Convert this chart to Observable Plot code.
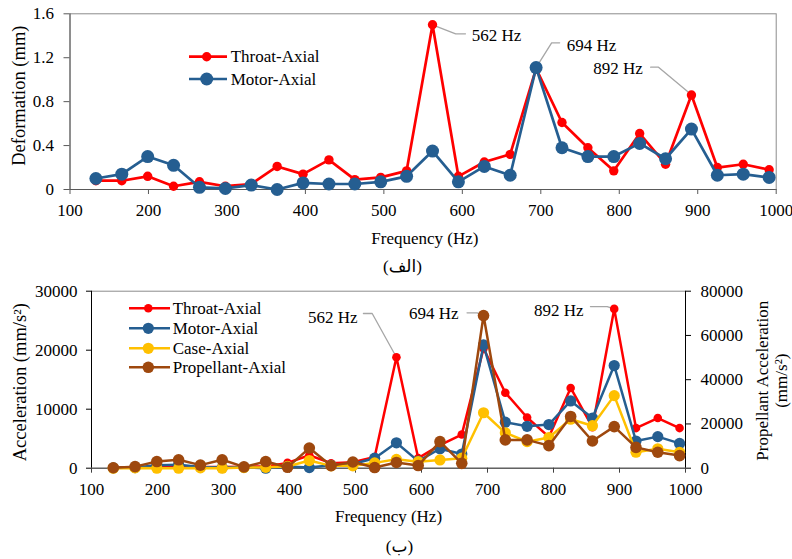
<!DOCTYPE html>
<html>
<head>
<meta charset="utf-8">
<script src="https://cdn.jsdelivr.net/npm/d3@7"></script>
<script src="https://cdn.jsdelivr.net/npm/@observablehq/plot@0.6"></script>
<style>
  body { margin: 0; background: #fff; }
  #wrap { position: relative; width: 792px; height: 559px; background: #fff; }
  #top, #bot { position: absolute; left: 0; }
  #top { top: 0; }
  #bot { top: 280px; }
</style>
</head>
<body>
<div id="wrap"><div id="top"></div><div id="bot"></div></div>
<script>
// ---- data ----
const freqs = [133,166,199,232,265,298,331,364,397,430,463,496,529,562,595,628,661,694,727,760,793,826,859,892,925,958,991];

// (a) deformation, mm
const throatDef = [0.08,0.08,0.12,0.03,0.07,0.03,0.05,0.21,0.14,0.27,0.09,0.11,0.17,1.50,0.12,0.25,0.32,1.10,0.61,0.38,0.17,0.51,0.23,0.86,0.20,0.23,0.18];
const motorDef  = [0.10,0.14,0.30,0.22,0.02,0.01,0.04,0.00,0.06,0.05,0.05,0.07,0.12,0.35,0.07,0.21,0.13,1.11,0.38,0.30,0.30,0.42,0.28,0.55,0.13,0.14,0.11];

// (b) acceleration, mm/s^2 (left axis)
const throatAcc = [100,150,200,150,200,200,250,300,900,2200,850,1000,1900,18800,1700,3900,5700,20300,12800,8600,5300,13600,6950,27000,6800,8500,6800];
const motorAcc  = [50,100,500,600,200,100,150,0,300,100,500,700,1700,4300,1200,3300,2400,20900,7800,7100,7400,11400,8500,17400,4600,5350,4200];
const caseAcc   = [0,50,0,0,50,0,100,150,300,1300,400,400,900,1500,1100,1400,1700,9400,6000,4500,5200,8300,7200,12300,2700,3300,2700];
// propellant acceleration, mm/s^2 (right axis)
const propAcc   = [200,700,3000,3800,1400,3800,600,3000,400,9100,1100,2800,300,2600,1200,12000,2200,69000,12800,12800,10200,23400,12300,18800,9400,7200,5700];

const xTicks = [100,200,300,400,500,600,700,800,900,1000];
const defTicks = [0,0.4,0.8,1.2,1.6];
const accTicks = [0,10000,20000,30000];
const propTicks = [0,20000,40000,60000,80000];

const accMax = 30000, propMax = 80000;
const toLeft = v => v * accMax / propMax;

// annotations (data units)
const topNotes = [
  {label:"562 Hz", f:562, v:1.50, ex:591.5, ey:1.418, hx:604, tx:612, ty:1.40, anchor:"start"},
  {label:"694 Hz", f:694, v:1.11, ex:713.8, ey:1.336, hx:724, tx:733, ty:1.311, anchor:"start"},
  {label:"892 Hz", f:892, v:0.862, ex:850, ey:1.114, hx:840, tx:830, ty:1.099, anchor:"end"}
];
const botNotes = [
  {label:"562 Hz", f:562, v:18800, ex:525.3, ey:26220, hx:512, tx:503, ty:25590, anchor:"end"},
  {label:"694 Hz", f:694, v:toLeft(69000), ex:684.4, ey:26340, hx:669, tx:656, ty:26170, anchor:"end"},
  {label:"892 Hz", f:892, v:27000, ex:881.4, ey:27400, hx:856, tx:845.5, ty:26730, anchor:"end"}
];

const RED = "#ff0000", BLUE = "#255e91", YEL = "#ffc000", BRN = "#9e480e";
const FONT = "'Liberation Serif', 'Times New Roman', 'DejaVu Serif', 'DejaVu Sans', serif";

const topSeries = [
  {name:"Throat-Axial", vals:throatDef, color:RED, r:4.7, w:2.7},
  {name:"Motor-Axial", vals:motorDef, color:BLUE, r:6.5, w:2.7}
];
const botSeries = [
  {name:"Throat-Axial", vals:throatAcc, color:RED, r:4.3, w:2.5},
  {name:"Motor-Axial", vals:motorAcc, color:BLUE, r:5.6, w:2.5},
  {name:"Case-Axial", vals:caseAcc, color:YEL, r:5.6, w:2.5},
  {name:"Propellant-Axial", vals:propAcc.map(toLeft), color:BRN, r:5.8, w:2.5}
];

function leaderPts(notes) {
  return notes.flatMap(n => [
    {k:n.label, x:n.f, y:n.v},
    {k:n.label, x:n.ex, y:n.ey},
    {k:n.label, x:n.hx, y:n.ey}
  ]);
}
function seriesMarks(series) {
  return series.flatMap(s => {
    const d = freqs.map((f, i) => ({f, v: s.vals[i]}));
    return [
      Plot.line(d, {x:"f", y:"v", stroke:s.color, strokeWidth:s.w}),
      Plot.dot(d, {x:"f", y:"v", r:s.r, fill:s.color})
    ];
  });
}
const noteMarks = notes => [
  Plot.line(leaderPts(notes), {x:"x", y:"y", z:"k", stroke:"#a6a6a6", strokeWidth:1.3}),
  ...notes.map(n => Plot.text([n], {x:"tx", y:"ty", text:"label", textAnchor:n.anchor, lineAnchor:"middle", fontSize:17, fill:"black"}))
];
const label = (s, o) => Plot.text([s], {text: d => d, textAnchor: "middle", lineAnchor: "middle", fill: "black", ...o});

// ---- (a) ----
const topPlot = Plot.plot({
  width: 792, height: 280,
  marginLeft: 69.5, marginRight: 16.3, marginTop: 13.3, marginBottom: 91,
  x: {domain: [100, 1000]},
  y: {domain: [0, 1.6]},
  style: {fontFamily: FONT, fontSize: "17px", color: "black", background: "white", overflow: "visible"},
  marks: [
    Plot.frame({stroke: "#8c8c8c"}),
    Plot.ruleX([100], {stroke: "#595959"}),
    Plot.ruleY([0], {stroke: "#595959"}),
    Plot.axisX({ticks: xTicks, tickSize: 5, tickPadding: 9, tickFormat: d => String(d), label: null, stroke: "#595959", fontSize: 17}),
    Plot.axisY({ticks: defTicks, tickSize: 6, tickPadding: 10, tickFormat: d => d === 0 ? "0" : d.toFixed(1), label: null, stroke: "#595959", fontSize: 17}),
    ...noteMarks(topNotes),
    ...seriesMarks(topSeries),
    label("Frequency (Hz)", {frameAnchor: "bottom", dx: 1.8, dy: 49, fontSize: 17}),
    label("Deformation (mm)", {frameAnchor: "left", rotate: -90, dx: -50.5, dy: -6, fontSize: 18.5}),
    label("(الف)", {frameAnchor: "bottom", dx: -20.6, dy: 76.7, fontSize: 17})
  ]
});
document.getElementById("top").append(topPlot);

// ---- (b) ----
const botPlot = Plot.plot({
  width: 792, height: 279,
  marginLeft: 91, marginRight: 107, marginTop: 10.7, marginBottom: 91.3,
  x: {domain: [100, 1000]},
  y: {domain: [0, accMax]},
  style: {fontFamily: FONT, fontSize: "17px", color: "black", background: "white", overflow: "visible"},
  marks: [
    Plot.frame({stroke: "#8c8c8c"}),
    Plot.ruleX([100], {stroke: "black"}),
    Plot.ruleX([1000], {stroke: "black"}),
    Plot.ruleY([0], {stroke: "#404040"}),
    Plot.axisX({ticks: xTicks, tickSize: 5, tickPadding: 10, tickFormat: d => String(d), label: null, stroke: "#404040", fontSize: 17}),
    Plot.axisY({ticks: accTicks, tickSize: 5, tickPadding: 9, tickFormat: d => String(d), label: null, stroke: "black", fontSize: 17}),
    Plot.axisY(propTicks.map(toLeft), {anchor: "right", tickSize: 5, tickPadding: 10, tickFormat: d => String(Math.round(d * propMax / accMax)), label: null, stroke: "black", fontSize: 17}),
    ...noteMarks(botNotes),
    ...seriesMarks(botSeries),
    label("Frequency (Hz)", {frameAnchor: "bottom", dx: 0, dy: 48.3, fontSize: 17}),
    label("Acceleration (mm/s²)", {frameAnchor: "left", rotate: -90, dx: -71, dy: 2.5, fontSize: 18.5}),
    label("Propellant Acceleration\n(mm/s²)", {frameAnchor: "right", rotate: -90, dx: 86, dy: 1, fontSize: 17, lineHeight: 1.08}),
    label("(ب)", {frameAnchor: "bottom", dx: 11, dy: 78.3, fontSize: 17})
  ]
});
document.getElementById("bot").append(botPlot);

// ---- legends ----
const leg = d3.select("#wrap").append("svg")
  .attr("width", 792).attr("height", 559)
  .style("position", "absolute").style("left", 0).style("top", 0)
  .style("pointer-events", "none")
  .attr("font-family", FONT).attr("font-size", 17);

function legend(series, x0, x1, xm, xt, rows) {
  series.forEach((s, i) => {
    const y = rows[i];
    leg.append("line").attr("x1", x0).attr("x2", x1).attr("y1", y).attr("y2", y)
      .attr("stroke", s.color).attr("stroke-width", s.w);
    leg.append("circle").attr("cx", xm).attr("cy", y).attr("r", s.r).attr("fill", s.color);
    leg.append("text").attr("x", xt).attr("y", y).attr("dy", "0.34em").text(s.name);
  });
}
legend(topSeries, 189, 227, 206.7, 230.7, [56.7, 79]);
legend(botSeries, 129, 170, 148.3, 172.7, [308.3, 328.3, 348.3, 367.3]);
</script>
</body>
</html>
